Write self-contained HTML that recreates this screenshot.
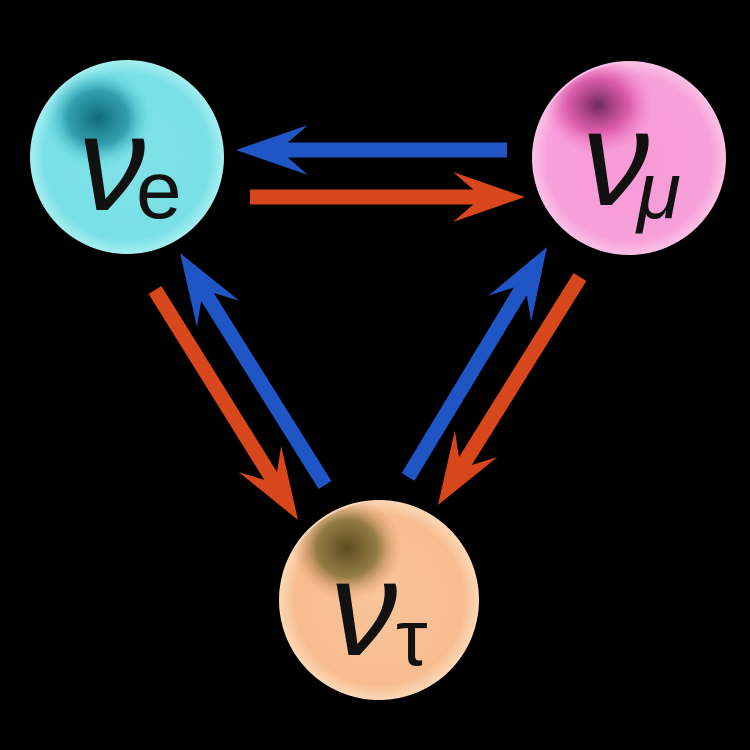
<!DOCTYPE html>
<html><head><meta charset="utf-8"><style>
html,body{margin:0;padding:0;background:#000;}
svg{display:block}
text{font-family:"Liberation Sans","DejaVu Sans",sans-serif;fill:#111;}
</style></head><body>
<svg id="s" width="750" height="750" viewBox="0 0 750 750" xmlns="http://www.w3.org/2000/svg">
<defs>
<radialGradient id="ge" cx="50%" cy="50%" r="50%"><stop offset="0" stop-color="#80e2e8"/><stop offset="0.85" stop-color="#78e0e6"/><stop offset="1" stop-color="#a6eef0"/></radialGradient>
<radialGradient id="gm" cx="50%" cy="50%" r="50%"><stop offset="0" stop-color="#f79ad6"/><stop offset="0.85" stop-color="#f7a0da"/><stop offset="1" stop-color="#fbc2e6"/></radialGradient>
<radialGradient id="gt" cx="50%" cy="50%" r="50%"><stop offset="0" stop-color="#f8c49a"/><stop offset="0.85" stop-color="#f7bd90"/><stop offset="1" stop-color="#fcd9b8"/></radialGradient>
<radialGradient id="se"><stop offset="0" stop-color="#106878"/><stop offset="0.55" stop-color="#1a8a9c" stop-opacity="0.75"/><stop offset="1" stop-color="#5fd8e0" stop-opacity="0"/></radialGradient>
<radialGradient id="sm"><stop offset="0" stop-color="#6a2a5a"/><stop offset="0.55" stop-color="#d0449a" stop-opacity="0.75"/><stop offset="1" stop-color="#f06ec0" stop-opacity="0"/></radialGradient>
<radialGradient id="st"><stop offset="0" stop-color="#5a4a20"/><stop offset="0.55" stop-color="#7a6a30" stop-opacity="0.8"/><stop offset="1" stop-color="#e89a60" stop-opacity="0"/></radialGradient>
<clipPath id="ce"><circle cx="127" cy="157" r="95"/></clipPath>
<clipPath id="cm"><circle cx="629" cy="158" r="95"/></clipPath>
<clipPath id="ct"><circle cx="379" cy="600" r="98"/></clipPath>
</defs>
<circle cx="127" cy="157" r="97" fill="url(#ge)"/>
<ellipse cx="98" cy="118" rx="55" ry="50" fill="url(#se)" clip-path="url(#ce)"/>
<circle cx="629" cy="158" r="97" fill="url(#gm)"/>
<ellipse cx="598" cy="105" rx="55" ry="48" fill="url(#sm)" clip-path="url(#cm)"/>
<circle cx="379" cy="600" r="100" fill="url(#gt)"/>
<ellipse cx="347" cy="548" rx="55" ry="52" fill="url(#st)" clip-path="url(#ct)"/>
<g id="arrows"></g>
<text x="78" y="210" font-size="135" font-style="italic">ν</text>
<text x="136" y="218" font-size="82">e</text>
<text x="582" y="205" font-size="135" font-style="italic">ν</text>
<text x="637" y="218" font-size="80" font-style="italic">μ</text>
<text x="330" y="655" font-size="135" font-style="italic">ν</text>
<text x="396" y="665" font-size="80">τ</text>
</svg>
<script>
var A=[["#1f55c4",507,150,236,150],["#d8461c",250,197,525,197],
["#d8461c",155,290,298,520],["#1f55c4",325,485,180,253],
["#1f55c4",408,477,547,247],["#d8461c",580,277,438,505]];
var g=document.getElementById("arrows"),h="";
A.forEach(function(a){var c=a[0],x1=a[1],y1=a[2],x2=a[3],y2=a[4];
var dx=x2-x1,dy=y2-y1,L=Math.hypot(dx,dy),ux=dx/L,uy=dy/L,px=-uy,py=ux;
var w=7.5,hl=72,hw=25,bx=x2-ux*hl,by=y2-uy*hl,nx=x2-ux*hl*0.72,ny=y2-uy*hl*0.72;
var p=[[x1+px*w,y1+py*w],[nx+px*w,ny+py*w],[bx+px*hw,by+py*hw],[x2,y2],[bx-px*hw,by-py*hw],[nx-px*w,ny-py*w],[x1-px*w,y1-py*w]];
h+='<polygon fill="'+c+'" points="'+p.map(function(q){return q[0].toFixed(1)+","+q[1].toFixed(1)}).join(" ")+'"/>';});
g.innerHTML=h;
</script>
</body></html>
